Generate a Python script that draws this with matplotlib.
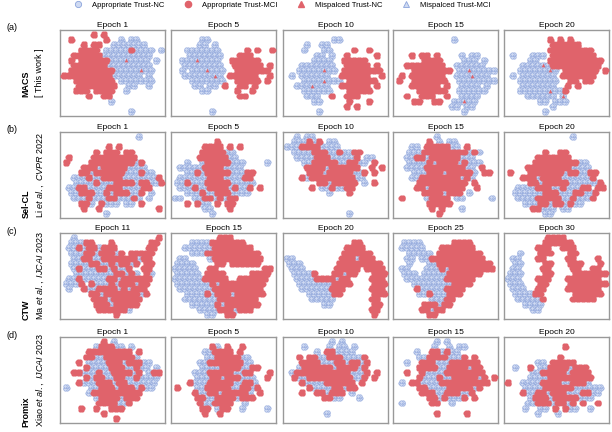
import matplotlib
matplotlib.use("Agg")
import matplotlib.pyplot as plt
from matplotlib.lines import Line2D

plt.rcParams['font.family'] = ['Liberation Sans', 'DejaVu Sans']
plt.rcParams['mathtext.fontset'] = 'custom'
plt.rcParams['mathtext.rm'] = 'Liberation Sans'
plt.rcParams['mathtext.it'] = 'Liberation Sans:italic'
plt.rcParams['mathtext.bf'] = 'Liberation Sans:bold'

# rows of the figure
ROW_TAGS = ['(a)', '(b)', '(c)', '(d)']
METHODS = ['MACS', 'Sel-CL', 'CTW', 'Promix']
CITES = ['[ This work ]',
         r'Li $\mathit{et\ al.,\ CVPR\ 2022}$',
         r'Ma $\mathit{et\ al.,\ IJCAI\ 2023}$',
         r'Xiao $\mathit{et\ al.,\ IJCAI\ 2023}$']
EPOCHS = [[1, 5, 10, 15, 20],
          [1, 5, 10, 15, 20],
          [11, 15, 20, 25, 30],
          [1, 5, 10, 15, 20]]

# t-SNE maps, one char per cell
# B = appropriate NC, R = appropriate MCI, t = misplaced NC inside an NC cluster
MACS_MAPS = [
    ["......R.R...........",
     ".R......R..B.BB.....",
     "....R.RR..BBBBBBB...",
     "...RRRR.BBBBBRBBBB.B",
     "..RRRRRRBBBBBBBBBB..",
     ".R.RRRRRRBBBtBBBB.B.",
     "..RRRRRRRBBBBBBBBB..",
     ".RRRRRRRRRBBBBBtBB..",
     "RRRRRRRRRRBBBBBB.B..",
     "..RRRRRRRR.BBBBBBB..",
     "...RRRRRRRR..BB..B..",
     "..RRR.RRRR..B.......",
     ".....R..RR..........",
     ".........B..........",
     "....................",
     ".............B......"],
    ["....................",
     ".....BB.............",
     ".....BB.B...........",
     "..BBBBBBB.....R.R..R",
     "...BBBBBBB...RRR....",
     ".BBBtBBBB..RRRRRR...",
     "..BBBBBBBB..RRRRRR.R",
     ".B.BBBtBBB..RRRRRRR.",
     "..BBBBBBtB.RRRRRR..R",
     "...BBBBBBB..RRRRR.R.",
     "....BB.BB.R..RR.R...",
     ".....BB.....R..R....",
     ".............RR.....",
     "....................",
     "....................",
     ".......B............"],
    ["....................",
     ".........BB.........",
     "....B..BB...........",
     "...B...BB....R..R...",
     "......BB.B..R.....R.",
     ".....BBBB..RRRRR....",
     "...BBBBBBB..RRRRR.R.",
     "..BBBBBtBB.RRRRRRRR.",
     ".B.BBBBBB..RRRRRR..R",
     "...BBBBtBBB.RRRRRR..",
     "..BBBtBBB..RRRRRR.R.",
     "...BBBBBB...RRRRR...",
     "....BBB..R..RRR.....",
     ".....BB.....R...R...",
     "............R.R.....",
     "......B............."],
    ["....................",
     "...........B........",
     "....................",
     "....................",
     "...R.RR.R....B.BB...",
     ".....RRRR....BBB.B..",
     "..RRRRRRRR..BBBBBB..",
     "...RRRRRRRR.BBtBBBBB",
     ".R.RRRRRRR..BBBtBBB.",
     "R..RRRRRRR..BBBBBBBB",
     "...RRRRRR.R..BBBB.B.",
     "....RRRRRR..BBBBBB..",
     "..R..RRR..R..BBBB...",
     "...RR..RR..BBtBB....",
     "...........BB.BB....",
     ".............B......"],
    ["....................",
     "........R.R.R.......",
     ".........RRRRRR.....",
     "........RRRRRRRRR...",
     ".B...BBB.RRRRRRRRR..",
     "....BB..RRRRRRRRRRR.",
     "...BBBBtBRRRRRRRRRR.",
     "..BBBBBBtB.RRRRRRR.R",
     ".B.BBBBBBB.RRRRRRR..",
     "..BBBBBBBB..RR.RR...",
     "...BBBBBBB..R.R.....",
     "..BBBBBBtBBR........",
     "....BBBBBB.t........",
     "......BB.BBB........",
     ".........B..........",
     ".......B............"],
]

SELCL_MAPS = [
    ["...............B....",
     "....................",
     ".........R.R........",
     "......R.RRR.RR......",
     ".R....RRRRRRRRR.....",
     "R....RRRRRRRRRBR....",
     "....RRRBRRRRRBBBB...",
     "...RRBRRRRRRBBBRBB..",
     "..BBBRBBRRRRBBBBBBBR",
     "..BBBBRBBBRRRRBRRBBR",
     ".BBRRBBBBRRRBBBBRR..",
     ".BBRRRBBRBRRRBBR.B..",
     "..BBBRBBBRRBBBRB.B..",
     "...RRB.RBBB.BB.R....",
     "....R..R...........R",
     "........B..........."],
    ["....................",
     "........R...........",
     "......RRRR.R.R......",
     ".....RRRRRBB........",
     ".....RRRRRRBB.......",
     "..B..BRRRRRBBB....B.",
     ".BBBBBRRRRBBBB......",
     "..BBRBRRRRRBBBRR....",
     ".BBBBBBRRRBBBBRR....",
     "BBRBBBRRRRRBBBBB....",
     ".BBBRBBRRRRBRBBR.R..",
     "..BBBRBBRRRBBBB.....",
     "BB..BBRRBRBRR.......",
     "..R.RBB.R.RR........",
     "......BB...R........",
     ".......B............"],
    ["..B.BB..............",
     ".BBBRBR.BB..........",
     "BBBRRRRBBBB.........",
     ".BBBBRRRBBRBBRR.....",
     "..BBBBRRRBBBBBR.BB..",
     "...BBRRRRRBBRRBB.R..",
     "....RRRRBRRRRRR..R.R",
     "....RRRBRRRRRBBR.R..",
     "...RBRRRRRRRRRBB....",
     "......RRBRRRRR.B.R..",
     ".....R.BBRBBRR......",
     "........B...R.......",
     "....................",
     "....................",
     "....................",
     "............B......."],
    ["........B...........",
     "......R.B.BB........",
     "...BB.RRRRRBB.R.....",
     "..BBBRRRRRRRRRBRB...",
     "..BBRRBRRRRRRBBB....",
     "..BBBBRBRRRRBRBBB...",
     "..BBBBRRRRRRRRBB.R..",
     "...BBBRRRBRRRRRB.RR.",
     "...BBRRRRRRRRBRB....",
     "....RRRRRRRRRR.R....",
     "....RRBRRRRRRR..R...",
     ".....RRRRBRRR.B.....",
     ".R....BRRRR.BB.....B",
     "......RRRRR.........",
     ".......R.R...B......",
     "........R..........."],
    [".............B......",
     "....................",
     "....................",
     ".......R..RR........",
     "......RRRRRRR.......",
     ".....RRRRRRRRRBB....",
     "....RRRRRRRRRBBBB...",
     "R...RRRRRRRBRRBBRR..",
     "...RRRBRRRRBBBBBBR..",
     "....RRBRRRRRBBBBBBR.",
     "..BBBBRRRBBRBBBRR.RR",
     ".BBBBBBRRRBBBRRBBR..",
     "..BBBBRRRRRBBRBBBR..",
     "...BBBRRBRRBRBB.....",
     ".....RRBBB.BB.......",
     ".......BB..........."],
]

CTW_MAPS = [
    ["..B................R",
     ".BBBRR...R.......RR.",
     ".BBRBRRBRRR......RR.",
     ".BBBRRBRRRBR.RRRRR..",
     "..BBRRBBRRRRRRRBRR..",
     ".BBBBRRBBRBRRBR.RR..",
     "..BRBBBRRBRBBR..RR..",
     "..BBBBBBBBRRBRB.RB..",
     ".BBRBBBBBRRBRRRRRR..",
     "BBBR.RBBBRBRRRBRR...",
     ".B..RBBRRRRBRBRRR...",
     ".....RRBRRRRRRRBR...",
     "......RRRBRRRRRR....",
     "......RRRBRRRRR.....",
     ".......RRRRRRB......",
     "..........R........."],
    [".........RRR........",
     "...BBBBRRRRRRR......",
     "..BBBBBBRRRRRRRR....",
     "...BBBRRRRRRRRRRR...",
     ".BB....BRRRRRRRRRR..",
     "BBBB....RR.RRRRRR...",
     "BBBBB..RR.........RR",
     "BBBBB.RRRR.....RRRR.",
     "BBBBBBRRRRR..RRRRRR.",
     "BBBBBBBRBRRRRRRRRR..",
     ".BBBBBBBRRRRRRRRRR..",
     "..BBBBRBRRRBRRRRRR..",
     "..BBBBBBBRRRRRRRR...",
     "...BBBBBRBRRRRRRR...",
     ".....BBBBRRRBRRR....",
     "......BB..RR........"],
    ["....................",
     ".............RR.....",
     "............RRRR....",
     "...........RRRRRR...",
     "BB.........RRRBRRR..",
     "BBB.......RRRRRRRRR.",
     ".BBB......RRRRR.RRRR",
     ".BBBBR...RRBRR...RRR",
     "..BBBBRRRRBRR....RRR",
     "..BBBBBBBRRRR....RRR",
     "...BBBBBBRRR.....RRR",
     "....BBBBBRR......RRR",
     ".....BBBBB.......RR.",
     ".......BB........RR.",
     ".................RR.",
     ".................R.."],
    ["....................",
     ".BBBB......RRRR.....",
     ".BBBBB...RRRRRRR....",
     "..BBBBB.RRRRRRRRR...",
     "..BB.BBRRRRRRRRRRR..",
     "..B...BBRRRRRRRRRRR.",
     ".BB...BBBRBRRRRRRRRR",
     ".BBB.BBBBBRRRRRRR...",
     "..BBBBBBBBRRRRRR....",
     "...BBBBBBBBRRRR.....",
     "....RBBBBBRRRR......",
     "....BBRBBBRRR.......",
     ".......BBBRR........",
     ".....RRRBRR.........",
     ".....RRBRR..........",
     "......RR............"],
    ["........RRRR........",
     ".......RRRRRR.......",
     "......RRR..RRR......",
     "..B...RRR...RR......",
     ".BB...RR....RR....R.",
     ".BB....RR...RRR...R.",
     ".BB....RR....RR..RR.",
     "BBB....RR....RRRRRRR",
     "BBB...RRR...RRRRRRR.",
     "BBB...RR....RRRRRRRR",
     ".BBB..RR....RRRRRRR.",
     ".BBBBRR......RRRRRR.",
     "..BBBBBR.....RRRRR..",
     "...BBBB.............",
     ".....BB.............",
     "...................."],
]

PROMIX_MAPS = [
    ["........R.B.........",
     "......BRRRBB.B......",
     ".....RRRRRRRRR.R....",
     "....RRBBRRRRRRB.....",
     "...R.BBBBRRRBRRRBB..",
     "....RBBBBRRRBBRBB.B.",
     "..RRBBBRBBRRRRBR.BRR",
     "....RBRRBBRRBBRBBBB.",
     "...RBBBRRRBRRBBBBBB.",
     "B....BBRRRBRRRBRBB..",
     ".....BRRRRRRRRRR....",
     "......BRRRRBRRR.....",
     ".......RRRRBBR......",
     "...R..R..RRR........",
     "........R...........",
     "..........R........."],
    ["....................",
     ".......RB.R..R......",
     "......BBRRRR.R......",
     "......BBRRRRRBB.....",
     ".....BBRRRRRRRBB....",
     ".....BBBBRRRRBBRR...",
     "....BBBRRRRRBBRR...R",
     "....BBBRRBRRRBBB..R.",
     "...RBBBRRRRRBBRRB...",
     "R...BBRRRRRBBRRBR...",
     "....RBBRRBRRRRRB.R..",
     "....RRBBRRRRBRRR....",
     ".....RBBRRRR..B.....",
     ".....RR.BRR..B....B.",
     "......R..R..........",
     "...................."],
    [".........B.B........",
     "...B....B.BB.B......",
     "......B.RRBBBB......",
     "..R.RRBBRRRBBBBR....",
     "...RRRRBBBRRBRRBR...",
     "..BRRRRRRBRRRRBR....",
     ".BRRRRRRRRRRRBBBR.R.",
     ".RBBRRRRRRRRRBBR.R..",
     "...RBBBBRRRRRR.R....",
     "....RBBBBRRBRR......",
     "...R..RRBRRR.B......",
     ".......RRBB...B.....",
     "....................",
     "....................",
     "........B...........",
     "...................."],
    ["........B.B.........",
     ".......B..B.BB......",
     "....B..RRBRBB.......",
     "....BBRRRRBBBR.R....",
     "..B..RRRBBBRRRRRR...",
     "....RRRRBBRRRRBRR...",
     "..R..RBBBBRRRRRRRR..",
     "....RBBBRBBRRRRRBR.R",
     ".B.RRBBBBRRRRRRRRRR.",
     "....RRBBBBRRRRRBR...",
     ".....RRRBBRRRBBR....",
     "......RRBRBBBR.R....",
     ".B.....RR..B........",
     "....................",
     "........R.....R.....",
     "...................."],
    ["....................",
     "...........R........",
     "....................",
     "..........R.........",
     "......BB.RRRRR......",
     ".B..R.BBRRRRBRRR....",
     ".....BBRRRRRBRRRR...",
     "....BBBBRRRRRRRRR...",
     "R..BBBBRRRRBBRRRB...",
     "...BBBBRRRRRRBBBBBB.",
     "...RBBRRBRRRBBBRRBB.",
     "....BRRRBRRRRRBBB...",
     "....BBRRRBRRBR.R..R.",
     "...B..BB.R.RBB..B...",
     "......B...B.........",
     "...................."],
]

ALL_MAPS = [MACS_MAPS, SELCL_MAPS, CTW_MAPS, PROMIX_MAPS]

RED = '#e0636b'
BLUE_FACE = '#cfdaf2'
BLUE_EDGE = '#8ba3db'

W, H = 612, 432
COL_LEFT = [60, 171, 283, 393, 504]
ROW_TOP = [30, 132, 233, 337]
PW, PH = 105, 86

# each cell is drawn as a little clump of dots, like one t-SNE cluster
CLUMP = [(0.0, 0.0), (0.32, 0.0), (-0.32, 0.0), (0.16, 0.28),
         (-0.16, 0.28), (0.16, -0.28), (-0.16, -0.28)]


def parse_map(grid):
    pts = {'B': ([], []), 'R': ([], []), 't': ([], [])}
    for r, line in enumerate(grid):
        shift = 0.25 if r % 2 else -0.25
        for c, ch in enumerate(line):
            if ch == '.':
                continue
            x, y = c + shift, r
            if ch == 't':
                pts['t'][0].append(x)
                pts['t'][1].append(y)
            key = 'R' if ch == 'R' else 'B'
            for dx, dy in CLUMP:
                pts[key][0].append(x + dx)
                pts[key][1].append(y + dy)
    return pts


fig = plt.figure(figsize=(W / 100, H / 100), dpi=100)

for i, maps in enumerate(ALL_MAPS):
    for j, grid in enumerate(maps):
        ax = fig.add_axes([COL_LEFT[j] / W, 1 - (ROW_TOP[i] + PH) / H, PW / W, PH / H])
        pts = parse_map(grid)
        ax.scatter(*pts['B'], s=6, facecolor=BLUE_FACE, edgecolor=BLUE_EDGE, linewidth=0.4, zorder=2)
        ax.scatter(*pts['R'], s=9, color=RED, linewidth=0, zorder=3)
        ax.scatter(*pts['t'], s=7, marker='^', color=RED, linewidth=0, zorder=4)
        ax.set_xlim(-1.0, 20.0)
        ax.set_ylim(15.9, -0.9)
        ax.set_xticks([])
        ax.set_yticks([])
        for sp in ax.spines.values():
            sp.set_color('#999999')
            sp.set_linewidth(1.0)
        ax.set_title(f'Epoch {EPOCHS[i][j]}', fontsize=6, pad=2)

# row labels on the left
renderer = fig.canvas.get_renderer()
for i in range(4):
    yc = 1 - (ROW_TOP[i] + PH / 2) / H
    fig.text(12 / W, 1 - (ROW_TOP[i] - 2) / H, ROW_TAGS[i], fontsize=6.5, ha='center', va='center')
    cite = fig.text(40 / W, yc, CITES[i], fontsize=6.5, rotation=90, ha='center', va='center')
    bb = cite.get_window_extent(renderer)
    y_bottom = bb.y0 / fig.bbox.height
    fig.text(26 / W, y_bottom, METHODS[i], fontsize=6.5, fontweight='bold', rotation=90,
             ha='center', va='bottom')

handles = [
    Line2D([], [], ls='', marker='o', ms=4.5, mfc=BLUE_FACE, mec=BLUE_EDGE, mew=0.6),
    Line2D([], [], ls='', marker='o', ms=4.5, mfc=RED, mec=RED),
    Line2D([], [], ls='', marker='^', ms=4.5, mfc=RED, mec=RED),
    Line2D([], [], ls='', marker='^', ms=4.5, mfc=BLUE_FACE, mec=BLUE_EDGE, mew=0.6),
]
labels = ['Appropriate Trust-NC', 'Appropriate Trust-MCI', 'Mispalced Trust-NC', 'Mispalced Trust-MCI']
fig.legend(handles, labels, loc='upper center', bbox_to_anchor=(0.458, 1.012), ncol=4,
           frameon=False, fontsize=5.5, columnspacing=2.1, handletextpad=0.8)

fig.savefig('out.png', dpi=100)
